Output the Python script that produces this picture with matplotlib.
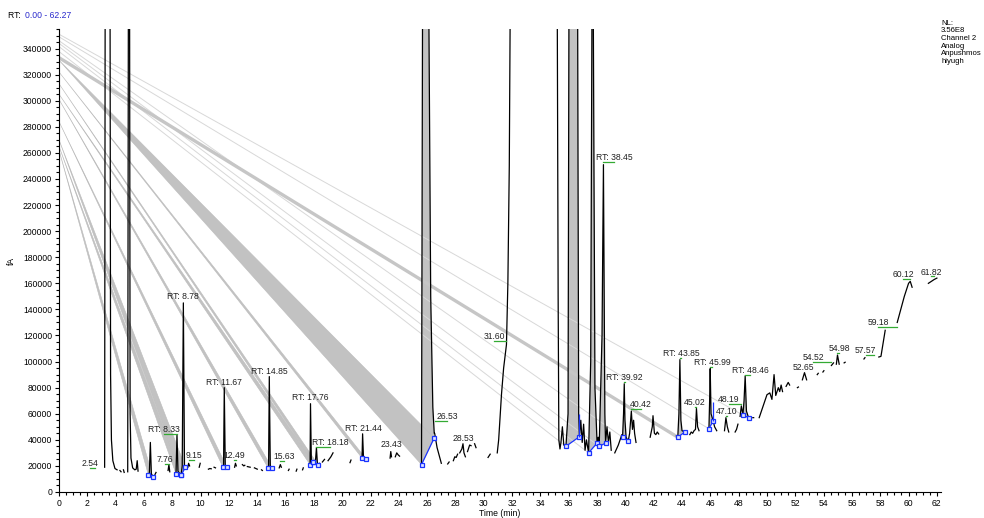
import numpy as np
import matplotlib.pyplot as plt
from matplotlib.patches import Polygon
from matplotlib.ticker import MultipleLocator

plt.rcParams['font.family'] = ['Liberation Sans', 'DejaVu Sans']
plt.rcParams['font.size'] = 6

nan = np.nan

# chromatogram trace (min, fA); nan = gap in the recorded trace, 400000 = off scale
trace_time = [
    3.22, 3.26, 3.60, 3.64, 3.70, 3.80, 3.95, 4.10, nan,
    4.30, 4.38, nan,
    4.55, 4.60, nan,
    4.85, 4.90, 4.98, 5.02, 5.08, 5.20, 5.35, 5.45, 5.52, 5.58, nan,
    6.25, 6.31, 6.38, 6.45, 6.52, 6.62, 6.70, nan,
    6.78, 6.85, nan,
    7.70, 7.76, 7.82, nan,
    8.20, 8.26, 8.33, 8.40, 8.55, 8.62, 8.70, 8.78, 8.86, 8.93, 9.00, nan,
    9.10, 9.15, 9.22, nan,
    9.90, 9.97, nan,
    10.55, 10.65, 10.75, nan,
    10.95, 11.05, nan,
    11.50, 11.58, 11.62, 11.67, 11.74, 11.86, nan,
    12.40, 12.46, 12.52, nan,
    12.95, 13.05, 13.12, nan,
    13.30, 13.50, nan,
    13.80, 14.00, nan,
    14.30, 14.36, nan,
    14.70, 14.76, 14.80, 14.85, 14.92, 15.04, 15.15, nan,
    15.55, 15.63, 15.70, nan,
    16.20, 16.25, nan,
    16.75, 16.80, nan,
    17.20, 17.25, nan,
    17.65, 17.73, 17.76, 17.82, 17.94, 18.10, 18.18, 18.24, 18.29, 18.40, nan,
    18.60, 18.75, nan,
    19.00, 19.20, 19.35, nan,
    20.55, 20.62, nan,
    21.33, 21.40, 21.44, 21.50, 21.68, nan,
    23.38, 23.43, 23.48, nan,
    23.75, 23.85, 23.95, 24.05, nan,
    25.55, 25.60, 25.68, 26.10, 26.25, 26.40, 26.50, 26.53, 26.70, 27.00, nan,
    27.45, 27.55, nan,
    27.85, 27.95, 28.05, 28.15, nan,
    28.30, 28.45, 28.53, 28.60, 28.70, nan,
    28.85, 29.00, 29.10, nan,
    29.35, 29.45, nan,
    30.30, 30.45, nan,
    30.95, 31.05, 31.25, 31.40, 31.60, 31.70, 31.80, 31.88, nan,
    35.18, 35.25, 35.30, 35.38, 35.45, 35.55, 35.65, 35.80, 35.95, 36.02,
    36.62, 36.70, 36.75, 36.85, 36.95, 37.05, 37.15, 37.25, 37.40, 37.55,
    37.65, 37.72, 37.85, 38.00, 38.08, 38.15, 38.35, 38.45, 38.55, 38.60,
    38.70, 38.80, 38.90, 39.00, nan,
    39.25, 39.50, 39.75, 39.80, 39.87, 39.92, 39.97, 40.05, 40.20, 40.30,
    40.42, 40.50, 40.58, 40.65, 40.75, nan,
    41.75, 41.90, 41.95, 42.05, 42.15, 42.25, 42.35, nan,
    43.60, 43.70, 43.78, 43.85, 43.92, 44.00, 44.20, 44.30, nan,
    44.55, 44.65, 44.75, 44.85, 44.95, 45.02, 45.10, 45.20, nan,
    45.85, 45.90, 45.95, 45.99, 46.05, 46.20, 46.30, 46.45, nan,
    47.00, 47.10, 47.20, 47.30, nan,
    47.75, 47.85, 47.95, nan,
    48.10, 48.19, 48.30, 48.38, 48.46, 48.55, 48.70, nan,
    49.00, 49.06, nan,
    49.45, 50.00, 50.20, 50.35, 50.50, 50.62, 50.80, 50.90, 51.00, 51.10, nan,
    51.35, 51.50, 51.60, nan,
    52.15, 52.22, nan,
    52.50, 52.65, 52.80, nan,
    53.55, 53.62, nan,
    53.95, 54.02, nan,
    54.55, 54.70, nan,
    54.90, 54.98, 55.10, nan,
    55.45, 55.52, nan,
    56.85, 56.92, nan,
    57.90, 58.05, 58.35, nan,
    59.20, 59.70, 60.00, 60.12, 60.25, nan,
    61.40, 61.82, 62.00,
]
trace_fa = [
    19000, 400000, 400000, 90000, 40000, 24000, 18000, 17000, nan,
    16500, 15500, nan,
    17000, 15000, nan,
    15500, 400000, 400000, 60000, 26000, 18500, 17000, 17500, 24000, 16000, nan,
    14000, 13000, 15000, 38000, 14000, 11800, 12500, nan,
    13500, 15000, nan,
    16500, 21000, 15500, nan,
    14500, 14000, 44000, 16000, 13500, 13000, 20000, 145000, 20000, 19000, 18500, nan,
    19000, 22000, 20000, nan,
    19000, 22000, nan,
    17500, 18000, 17800, nan,
    19000, 18500, nan,
    18500, 19000, 19500, 80000, 20000, 19000, nan,
    19000, 22000, 20000, nan,
    21000, 20000, 20500, nan,
    19500, 19000, nan,
    18500, 17500, nan,
    17000, 16500, nan,
    17500, 18500, 19500, 88500, 20000, 18500, 18000, nan,
    18500, 21000, 19000, nan,
    16500, 17500, nan,
    16000, 17500, nan,
    17000, 18500, nan,
    20000, 21000, 67700, 23000, 23000, 22000, 34000, 23000, 21000, 22000, nan,
    23000, 25000, nan,
    24000, 27000, 30000, nan,
    22500, 24500, nan,
    25500, 26000, 44600, 27000, 25500, nan,
    26000, 31000, 27000, nan,
    27000, 30000, 28500, 27500, nan,
    20000, 21000, 400000, 400000, 150000, 65000, 45000, 45000, 34000, 22000, nan,
    21500, 23000, nan,
    24000, 27000, 26500, 29000, nan,
    30000, 33000, 37000, 30000, 27000, nan,
    31000, 36000, 35500, nan,
    37000, 34000, nan,
    26500, 29000, nan,
    30000, 40000, 75000, 95000, 113000, 160000, 250000, 400000, nan,
    400000, 150000, 40000, 33000, 38000, 50000, 36000, 35000, 60000, 400000,
    400000, 60000, 42000, 55000, 38000, 52000, 32000, 40000, 30000, 100000,
    400000, 400000, 80000, 37500, 42000, 35000, 120000, 251000, 60000, 37500,
    50000, 38000, 46000, 32000, nan,
    30000, 36000, 44000, 42000, 60000, 83000, 55000, 42000, 39000, 45000,
    62000, 48000, 55000, 45000, 38000, nan,
    42000, 50000, 58500, 45000, 44000, 46000, 44500, nan,
    43000, 42000, 60000, 101500, 55000, 47000, 46000, 45000, nan,
    44000, 46000, 45000, 47000, 48000, 64000, 50000, 47000, nan,
    47000, 48500, 70000, 94600, 60000, 54500, 50000, 47000, nan,
    47000, 57000, 50000, 46000, nan,
    46000, 48000, 52000, nan,
    58000, 66000, 59000, 70000, 89000, 62000, 57000, nan,
    57000, 57000, nan,
    57000, 74600, 76000, 71000, 90000, 74000, 80000, 77000, 82000, 77000, nan,
    81000, 84000, 82000, nan,
    80000, 80500, nan,
    86000, 91500, 86000, nan,
    90000, 91000, nan,
    92000, 93000, nan,
    97000, 99000, nan,
    98000, 105000, 98000, nan,
    99000, 99500, nan,
    102000, 103000, nan,
    103500, 104000, 124000, nan,
    130000, 150000, 160000, 161500, 157000, nan,
    160000, 163000, 164000,
]

# integrated peaks: start / end time, baseline level at both ends,
# and the stray level at t = 0 that each integration polygon is tied to
peak_start = [6.31, 8.26, 8.62, 11.58, 14.76, 17.73, 17.94, 21.40,
              25.60, 35.80, 37.40, 38.15, 39.80, 43.70, 45.90, 48.30]
peak_end = [6.62, 8.62, 8.93, 11.86, 15.04, 17.94, 18.29, 21.68,
            26.50, 36.70, 38.00, 38.60, 40.20, 44.20, 46.20, 48.70]
base_start = [13000, 14000, 13000, 19000, 18500, 21000, 23000, 26000,
              21000, 35000, 30000, 35000, 42000, 42000, 48500, 59000]
base_end = [11800, 13000, 19000, 19000, 18500, 23000, 21000, 25500,
            41500, 42000, 37500, 37500, 39000, 46000, 54500, 57000]
origin_fa = [262000, 265000, 270000, 284000, 301000, 305000, 313000, 322000,
             331000, 337700, 341500, 344000, 346000, 333000, 349000, 351000]

# blue drop lines above a baseline end
drop_time = [36.70, 46.20]
drop_low = [42000, 54500]
drop_high = [60000, 69000]

# peak labels
label_rt = [2.54, 7.76, 8.33, 8.78, 9.15, 11.67, 12.49, 14.85, 15.63, 17.76, 18.18,
            21.44, 23.43, 26.53, 28.53, 31.60, 38.45, 39.92, 40.42, 43.85, 45.02,
            45.99, 47.10, 48.19, 48.46, 52.65, 54.52, 54.98, 57.57, 59.18, 60.12, 61.82]
label_x = [2.19, 7.45, 7.42, 8.72, 9.55, 11.62, 12.36, 14.83, 15.90, 17.73, 19.14,
           21.47, 23.45, 27.40, 28.53, 30.72, 39.20, 39.94, 41.07, 43.93, 44.90,
           46.15, 47.17, 47.30, 48.83, 52.58, 53.28, 55.08, 56.96, 57.87, 59.64, 61.60]
label_y = [21500, 24600, 47700, 150000, 27700, 83800, 27700, 92300, 26900, 72300, 37700,
           48500, 36200, 57700, 40800, 119200, 256200, 87700, 66900, 106200, 68500,
           99200, 61500, 70800, 93100, 95400, 103100, 110000, 108500, 130000, 166900, 168500]
rt_prefixed = [8.33, 8.78, 11.67, 14.85, 17.76, 18.18, 21.44, 38.45, 39.92, 43.85, 45.99, 48.46]

info_lines = ["NL:", "3.56E8", "Channel 2", "Analog", "Anpushmos", "hiyugh"]

assert len(trace_time) == len(trace_fa)
t = np.array(trace_time)
f = np.array(trace_fa)

fig = plt.figure(figsize=(9.84, 5.18), dpi=100)
ax = fig.add_axes([0.060, 0.0502, 0.896, 0.8938])

blue = '#1a33ff'
gray = '#c2c2c2'

for s, e, bs, be, y0 in zip(peak_start, peak_end, base_start, base_end, origin_fa):
    inside = (t > s) & (t < e)
    curve = [(s, bs)] + list(zip(t[inside], f[inside])) + [(e, be)]
    # peak area
    ax.add_patch(Polygon(curve, closed=True, facecolor=gray, edgecolor='none', zorder=1))
    # stray edges of the integration polygon back to the y axis
    if s < 30:
        ax.add_patch(Polygon([(0, y0), (s, bs), (e, be)], closed=True,
                             facecolor=gray, edgecolor='#bcbcbc', lw=0.4, zorder=1))
    else:
        lw = 2.4 if s == 43.70 else 0.7
        col = '#c6c6c6' if s == 43.70 else '#d8d8d8'
        ax.plot([0, s], [y0, bs], color=col, lw=lw, zorder=1, solid_capstyle='butt')

ax.plot(t, f, color='black', lw=0.9, zorder=2)

# baselines
for s, e, bs, be in zip(peak_start, peak_end, base_start, base_end):
    ax.plot([s, e], [bs, be], color=blue, lw=0.9, marker='s', ms=3.1,
            mfc='#dfe5ff', mec=blue, mew=0.9, zorder=3)
ax.vlines(drop_time, drop_low, drop_high, color=blue, lw=0.9, zorder=3)

# labels with green leader lines
for rt, lx, ly in zip(label_rt, label_x, label_y):
    txt = f"RT: {rt:.2f}" if rt in rt_prefixed else f"{rt:.2f}"
    ax.plot([lx, rt], [ly - 3200, ly - 3200], color='#33aa33', lw=0.9, zorder=3)
    ax.text(lx, ly, txt, ha='center', va='center', fontsize=6.2, color='#222222', zorder=4)

ax.set_xlim(0, 62.27)
ax.set_ylim(0, 355000)
ax.spines['top'].set_visible(False)
ax.spines['right'].set_visible(False)
ax.xaxis.set_major_locator(MultipleLocator(2))
ax.xaxis.set_minor_locator(MultipleLocator(0.5))
ax.yaxis.set_major_locator(MultipleLocator(20000))
ax.yaxis.set_minor_locator(MultipleLocator(5000))
ax.set_xticks(np.arange(0, 63, 2))
ax.tick_params(which='major', length=3, width=0.8, labelsize=6.2, pad=2)
ax.tick_params(which='minor', length=2, width=0.8)
ax.set_xlabel("Time (min)", fontsize=6.2, labelpad=1)
ax.set_ylabel("fA", fontsize=6.2, labelpad=5)

fig.text(8 / 984, 1 - 15.7 / 518, "RT: ", fontsize=6.2, va='center', ha='left')
fig.text(25 / 984, 1 - 15.7 / 518, "0.00 - 62.27", fontsize=6.2, va='center', ha='left',
         color='#2a2acc')
for i, line in enumerate(info_lines):
    fig.text(941 / 984, 1 - (23.3 + 7.6 * i) / 518, line, fontsize=5.6, va='center', ha='left')

fig.savefig("out.png", dpi=100)
